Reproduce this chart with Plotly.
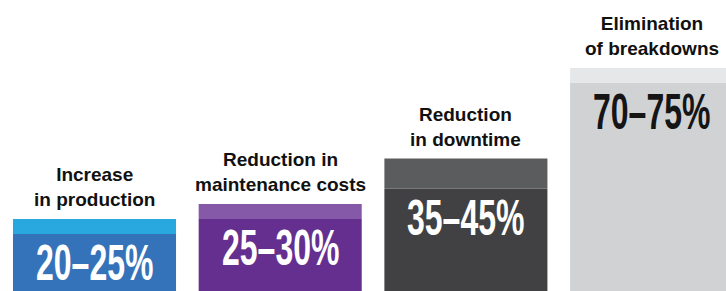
import plotly.graph_objects as go

categories = ["Increase<br>in production", "Reduction in<br>maintenance costs",
              "Reduction<br>in downtime", "Elimination<br>of breakdowns"]
low_values = [20, 25, 35, 70]
high_values = [25, 30, 45, 75]
range_labels = ["20\u201325%", "25\u201330%", "35\u201345%", "70\u201375%"]

dark_colors = ["#3473B9", "#642F8F", "#414143", "#D1D2D4"]
light_colors = ["#29A8E0", "#8659A8", "#5B5C5E", "#E6E7E8"]
number_colors = ["#FFFFFF", "#FFFFFF", "#FFFFFF", "#151515"]

x = list(range(len(categories)))
diff = [h - l for h, l in zip(high_values, low_values)]

fig = go.Figure()
fig.add_trace(go.Bar(x=x, y=low_values, marker=dict(color=dark_colors, line=dict(width=0)),
                     hoverinfo="skip"))
fig.add_trace(go.Bar(x=x, y=diff, base=low_values,
                     marker=dict(color=light_colors, line=dict(width=0)), hoverinfo="skip"))

for i in x:
    fig.add_annotation(x=i, y=high_values[i], text="<b>" + categories[i] + "</b>",
                       showarrow=False, yanchor="bottom", yshift=7,
                       font=dict(family="Liberation Sans, Arial, sans-serif", size=19, color="#111111"))
for i in x:
    fig.add_annotation(x=i, y=low_values[i], text="<b>" + range_labels[i] + "</b>",
                       showarrow=False, yanchor="top", yshift=1,
                       font=dict(family="Liberation Sans, Arial, sans-serif",
                                 size=32, color=number_colors[i]))

fig.update_layout(
    width=726, height=291,
    margin=dict(l=0, r=0, t=0, b=0),
    paper_bgcolor="white", plot_bgcolor="white",
    barmode="overlay", bargap=0.122,
    showlegend=False,
    xaxis=dict(range=[-0.5089, 3.4006], visible=False, fixedrange=True),
    yaxis=dict(range=[1.16, 97.5], visible=False, fixedrange=True),
)

post = """
document.body.style.margin = '0';
document.querySelectorAll('.annotation').forEach(function (g) {
  var idx = parseInt(g.getAttribute('data-index'));
  if (idx >= 4) {
    var t = g.querySelector('text.annotation-text');
    if (t) {
      t.style.transformBox = 'fill-box';
      t.style.transformOrigin = '50% 0%';
      t.style.transform = 'scaleY(1.55)';
    }
  }
});
"""

fig.write_html("out.html", post_script=post, config={"displayModeBar": False})
